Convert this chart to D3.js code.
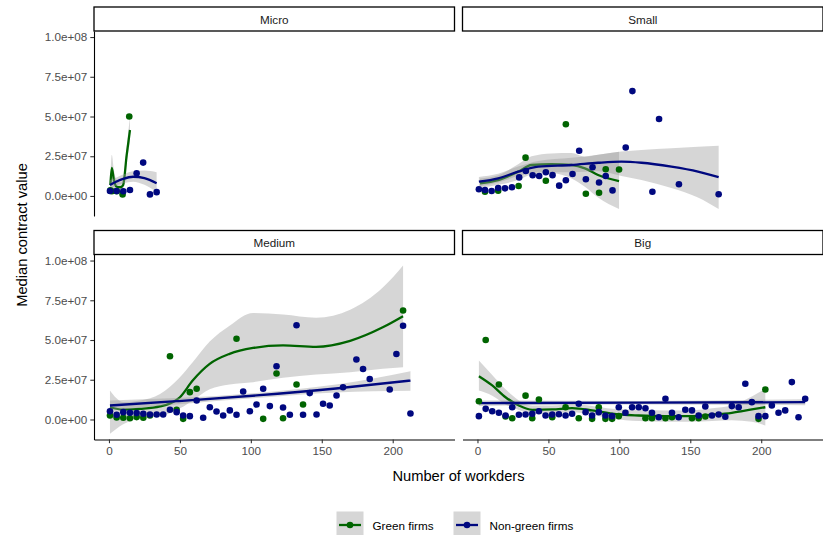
<!DOCTYPE html>
<html>
<head>
<meta charset="utf-8">
<script src="https://cdn.jsdelivr.net/npm/d3@7"></script>
<style>
  body { margin: 0; background: #fff; }
  svg text { font-family: "Liberation Sans", Arial, sans-serif; }
</style>
</head>
<body>
<svg id="chart" width="823" height="535"></svg>
<script>
// values; y in units of 1e7
var panelNames = ["Micro", "Small", "Medium", "Big"];
var seriesNames = ["Green firms", "Non-green firms"];
var seriesColors = ["#006400", "#00087f"];

var xTicks = [0, 50, 100, 150, 200];
var yTicks = [0, 2.5, 5, 7.5, 10];
var yTickLabels = ["0.0e+00", "2.5e+07", "5.0e+07", "7.5e+07", "1.0e+08"];

// points [workers, median value]
var microGreen = [[1, 0.35], [2, 0.3], [5.4, 0.3], [9.6, 0.1], [14.3, 5.0]];
var microBlue = [[0.7, 0.31], [5.4, 0.31], [10.1, 0.3], [14.8, 0.38], [19.5, 1.43], [24.1, 2.1], [28.9, 0.1], [33.6, 0.24]];

var smallGreen = [[5.3, 0.27], [14.6, 0.33], [29, 0.63], [33.9, 2.41], [48.2, 0.96], [62.3, 4.51], [76.4, 0.14], [85.7, 0.2], [90.4, 1.68], [99.8, 1.67]];
var smallBlue = [[1, 0.42], [5.3, 0.38], [10, 0.31], [14.6, 0.5], [19.4, 0.48], [24.3, 0.55], [29.4, 1.17], [34.1, 1.57], [38.9, 1.3], [43.5, 1.26],
  [48.2, 1.49], [52.9, 1.31], [57.6, 0.65], [62.3, 0.99], [67, 1.38], [71.7, 2.85], [76.4, 1.05], [81.1, 1.81], [85.7, 0.85], [90.4, 1.26],
  [95.2, 0.35], [104.5, 3.05], [109.2, 6.6], [123.3, 0.27], [128, 4.84], [142, 0.74], [170, 0.11]];

var mediumGreen = [[0.7, 0.25], [5.4, 0.13], [10.1, 0.11], [14.8, 0.08], [19.5, 0.15], [24.2, 0.11], [28.9, 0.25], [43, 3.98], [47.7, 0.61],
  [52.3, 0.04], [57, 1.72], [61.8, 1.93], [89.9, 5.08], [108.7, 0.04], [118.1, 2.89], [122.7, 0.08], [132.2, 2.2], [136.8, 0.94], [207.3, 6.86]];
var mediumBlue = [[0.7, 0.52], [5.4, 0.3], [10.1, 0.46], [14.8, 0.42], [19.5, 0.4], [24.2, 0.36], [28.9, 0.31], [33.6, 0.31], [38.2, 0.31],
  [43, 0.61], [47.7, 0.46], [52.3, 0.25], [57, 0.21], [61.8, 1.19], [66.4, 0.11], [71.1, 0.77], [75.8, 0.5], [80.5, 0.25], [85.2, 0.57],
  [89.9, 0.3], [94.6, 1.76], [99.3, 0.52], [104, 0.94], [108.7, 1.93], [113.4, 0.84], [118.1, 3.35], [122.7, 0.75], [127.5, 0.3],
  [132.2, 5.93], [136.8, 0.3], [141.5, 1.66], [146.3, 0.31], [150.9, 0.99], [155.6, 0.88], [160.4, 1.51], [165, 2.03], [174.4, 3.77],
  [179.1, 3.18], [183.8, 2.55], [197.9, 1.89], [202.6, 4.12], [207.3, 5.9], [212.5, 0.38]];

var bigGreen = [[1, 1.15], [5.8, 5.0], [15.1, 2.2], [19.8, 0.19], [24.5, 0.08], [33.9, 1.5], [38.6, 0.08], [43.3, 1.26], [52.7, 0.14],
  [62.1, 0.77], [71.4, 0.08], [80.8, 0.04], [85.5, 0.77], [90.2, 0.04], [94.9, 0.04], [99.6, 0.21], [118.4, 0.08], [123, 0.08],
  [132.5, 0.08], [137.1, 0.14], [151.2, 0.08], [155.9, 0.08], [160.6, 0.19], [198.1, 0.04], [202.9, 1.89]];
var bigBlue = [[1, 0.21], [5.8, 0.67], [10.4, 0.52], [15.1, 0.42], [19.8, 0.25], [24.5, 0.77], [29.2, 0.3], [33.9, 0.31], [38.6, 0.36],
  [43.3, 0.52], [48, 0.25], [52.7, 0.31], [57.4, 0.33], [62.1, 0.25], [66.7, 0.36], [71.4, 0.99], [76.2, 0.46], [80.8, 0.25],
  [85.5, 0.46], [90.2, 0.25], [94.9, 0.21], [99.6, 0.77], [104.3, 0.42], [109, 0.77], [113.7, 0.77], [118.4, 0.71], [123, 0.42],
  [127.8, 0.14], [132.5, 1.3], [137.1, 0.42], [141.8, 0.14], [146.5, 0.61], [151.2, 0.57], [155.9, 0.25], [160.6, 0.82], [165.3, 0.25],
  [170, 0.31], [174.7, 0.17], [179.3, 0.84], [184.1, 0.77], [188.8, 2.25], [193.4, 1.09], [198.1, 0.21], [202.9, 0.21], [207.5, 0.88],
  [212.2, 0.42], [216.9, 0.57], [221.6, 2.35], [226.3, 0.14], [231, 1.3]];

// smoothed fits: [workers, fit, lower, upper]
var microGreenFit = [[1, 0.69, 0.3, 1.1], [2, 1.76, 0.6, 2.6], [3.5, 1.0, 0.4, 1.6], [5.4, 0.58, 0.25, 1.0], [8, 0.55, 0.25, 0.85],
  [10, 0.69, 0.4, 1.0], [12.5, 2.58, 2.1, 3.1], [14.8, 4.15, 3.4, 5.0]];
var microBlueFit = [[0.7, 0.69, 0.4, 1.0], [5, 0.9, 0.65, 1.15], [10, 1.08, 0.8, 1.35], [17, 1.21, 0.9, 1.55], [25, 1.12, 0.7, 1.6], [33.6, 0.8, 0.25, 1.5]];

var smallGreenFit = [[1.8, 0.8, 0.5, 1.1], [14.6, 1.0, 0.7, 1.3], [28.7, 1.53, 1.0, 2.0], [38.1, 1.95, 1.35, 2.5], [52.2, 2.01, 1.43, 2.68],
  [66.3, 1.95, 1.1, 2.7], [75.7, 1.74, 0.58, 2.47], [85, 1.32, -0.1, 2.6], [99.8, 0.94, -0.82, 2.79]];
var smallBlueFit = [[1, 0.9, 0.6, 1.2], [14.6, 1.11, 0.85, 1.4], [28.7, 1.53, 1.25, 1.85], [42.8, 1.84, 1.5, 2.2], [66.3, 1.95, 1.5, 2.4],
  [85, 2.09, 1.55, 2.6], [101.5, 2.16, 1.25, 2.8], [115.6, 2.09, 1.0, 2.9], [136.7, 1.84, 0.5, 3.0], [155.4, 1.53, -0.1, 3.1], [170, 1.18, -0.82, 3.16]];

var mediumGreenFit = [[0.7, 0.77, -0.9, 1.82], [10, 0.62, -0.3, 1.1], [22, 0.67, 0.1, 1.2], [36, 0.82, 0.2, 1.6], [50, 1.4, 0.7, 2.66],
  [59, 2.45, 1.2, 3.6], [71, 3.5, 1.9, 4.9], [85, 4.13, 2.2, 5.9], [101.6, 4.5, 2.35, 6.7], [122.7, 4.66, 2.62, 6.6], [146, 4.57, 2.83, 6.4],
  [170, 4.95, 2.97, 6.9], [193, 5.8, 3.19, 8.3], [207.3, 6.5, 3.29, 9.69]];
var mediumBlueFit = [[0.7, 0.88, 0.55, 1.2], [47.7, 1.15, 0.95, 1.35], [104, 1.51, 1.35, 1.67], [160, 1.95, 1.7, 2.2], [212.5, 2.45, 1.8, 3.04]];

var bigGreenFit = [[1, 2.72, 1.82, 3.71], [10.4, 2.14, 1.5, 2.8], [19.8, 1.4, 0.95, 1.9], [29.2, 0.88, 0.6, 1.2], [38.6, 0.61, 0.35, 0.87],
  [52.7, 0.63, 0.38, 0.88], [66.7, 0.71, 0.45, 0.97], [80.8, 0.57, 0.3, 0.85], [94.9, 0.36, 0.05, 0.67], [113.7, 0.25, -0.1, 0.6],
  [132.5, 0.21, -0.15, 0.57], [151.2, 0.21, -0.15, 0.57], [165.3, 0.3, -0.1, 0.7], [179.3, 0.42, -0.05, 0.9], [193.4, 0.63, -0.15, 1.45],
  [202.9, 0.77, -0.38, 1.93]];
var bigBlueFit = [[1, 1.03, 0.85, 1.2], [116, 1.06, 0.95, 1.17], [231, 1.09, 0.9, 1.28]];

var panelPoints = [[microGreen, microBlue], [smallGreen, smallBlue], [mediumGreen, mediumBlue], [bigGreen, bigBlue]];
var panelFits = [[microGreenFit, microBlueFit], [smallGreenFit, smallBlueFit], [mediumGreenFit, mediumBlueFit], [bigGreenFit, bigBlueFit]];

var svg = d3.select("#chart");
var panelW = 360.5, panelH = 185, stripH = 24;
var colX = [94, 462.5], rowY = [31, 254.5];

svg.append("defs");

panelNames.forEach(function(name, p) {
  var col = p % 2, row = Math.floor(p / 2);
  var x0 = colX[col], y0 = rowY[row];
  var x = d3.scaleLinear().domain([-10.55, 243.55]).range([x0, x0 + panelW]);
  var y = d3.scaleLinear().domain([-1.26, 10.38]).range([y0 + panelH, y0]);

  svg.select("defs").append("clipPath").attr("id", "clip" + p)
    .append("rect").attr("x", x0).attr("y", y0).attr("width", panelW).attr("height", panelH);

  var g = svg.append("g").attr("clip-path", "url(#clip" + p + ")");

  // ribbons and fitted lines, then the points on top
  panelFits[p].forEach(function(fit, s) {
    var area = d3.area().curve(d3.curveMonotoneX)
      .x(function(d) { return x(d[0]); })
      .y0(function(d) { return y(d[2]); })
      .y1(function(d) { return y(d[3]); });
    var line = d3.line().curve(d3.curveMonotoneX)
      .x(function(d) { return x(d[0]); })
      .y(function(d) { return y(d[1]); });
    g.append("path").datum(fit).attr("d", area).attr("fill", "#999999").attr("fill-opacity", 0.4);
    g.append("path").datum(fit).attr("d", line).attr("fill", "none")
      .attr("stroke", seriesColors[s]).attr("stroke-width", 2.3);
  });

  panelPoints[p].forEach(function(pts, s) {
    g.selectAll(null).data(pts).enter().append("circle")
      .attr("cx", function(d) { return x(d[0]); })
      .attr("cy", function(d) { return y(d[1]); })
      .attr("r", 3.3)
      .attr("fill", seriesColors[s]);
  });

  // strip
  svg.append("rect").attr("x", x0).attr("y", y0 - stripH).attr("width", panelW).attr("height", stripH)
    .attr("fill", "#fff").attr("stroke", "#000").attr("stroke-width", 1.3);
  svg.append("text").attr("x", x0 + panelW / 2).attr("y", y0 - stripH / 2)
    .attr("text-anchor", "middle").attr("dominant-baseline", "central")
    .attr("font-size", "11.7px").attr("fill", "#1a1a1a").text(name);

  // axes: y on left column, x on bottom row
  if (col === 0) {
    var ya = svg.append("g").attr("transform", "translate(" + x0 + ",0)")
      .call(d3.axisLeft(y).tickValues(yTicks).tickSize(3.7).tickSizeOuter(0)
        .tickFormat(function(d, i) { return yTickLabels[i]; }));
    styleAxis(ya);
  }
  if (row === 1) {
    var xa = svg.append("g").attr("transform", "translate(0," + (y0 + panelH) + ")")
      .call(d3.axisBottom(x).tickValues(xTicks).tickSize(3.7).tickSizeOuter(0));
    styleAxis(xa);
  }
});

function styleAxis(a) {
  a.select(".domain").attr("stroke", "#000").attr("stroke-width", 1.1);
  a.selectAll(".tick line").attr("stroke", "#333").attr("stroke-width", 1.1);
  a.selectAll(".tick text").attr("fill", "#4d4d4d").style("font-size", "11.7px")
    .style("font-family", "'Liberation Sans', Arial, sans-serif");
}

// axis titles
svg.append("text").attr("x", 458.5).attr("y", 481).attr("text-anchor", "middle")
  .attr("font-size", "14.7px").attr("fill", "#000").text("Number of workders");
svg.append("text").attr("transform", "translate(27,235) rotate(-90)").attr("text-anchor", "middle")
  .attr("font-size", "14.7px").attr("fill", "#000").text("Median contract value");

// legend
var legendKeyX = [336.5, 453.5];
seriesNames.forEach(function(name, s) {
  var kx = legendKeyX[s], ky = 511.5, ks = 27;
  var lg = svg.append("g");
  lg.append("rect").attr("x", kx).attr("y", ky).attr("width", ks).attr("height", ks)
    .attr("fill", "#999999").attr("fill-opacity", 0.4);
  lg.append("line").attr("x1", kx + 2.5).attr("x2", kx + ks - 2.5)
    .attr("y1", ky + ks / 2).attr("y2", ky + ks / 2)
    .attr("stroke", seriesColors[s]).attr("stroke-width", 2.3);
  lg.append("circle").attr("cx", kx + ks / 2).attr("cy", ky + ks / 2).attr("r", 3.3).attr("fill", seriesColors[s]);
  lg.append("text").attr("x", kx + ks + 9).attr("y", ky + ks / 2)
    .attr("dominant-baseline", "central").attr("font-size", "11.7px").attr("fill", "#000").text(name);
});
</script>
</body>
</html>
